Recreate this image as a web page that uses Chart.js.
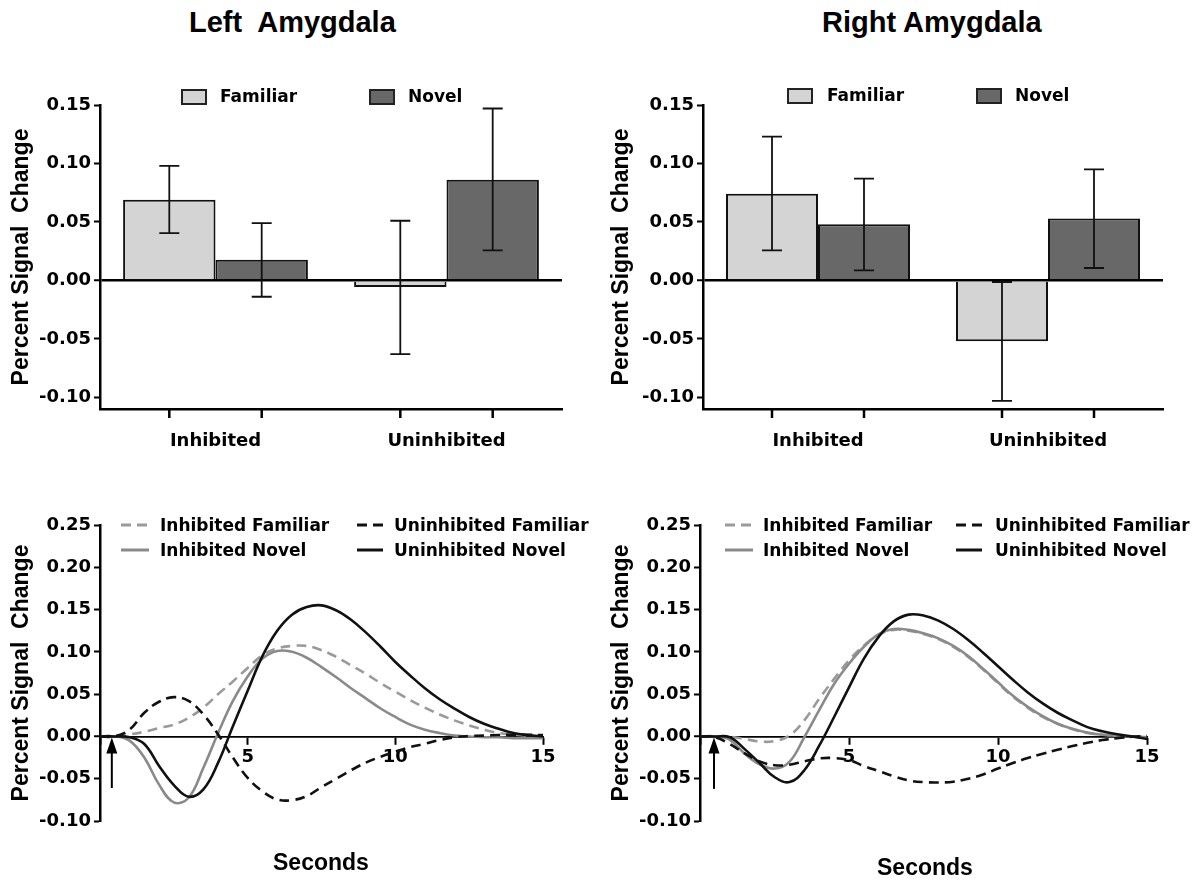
<!DOCTYPE html>
<html lang="en">
<head>
<meta charset="UTF-8">
<title>Left / Right Amygdala</title>
<script src="https://cdn.jsdelivr.net/npm/chart.js@4.4.1"></script>
<style>
  body{margin:0;background:#fff;width:1197px;height:881px;position:relative;overflow:hidden}
  canvas{position:absolute}
  .title{position:absolute;top:6px;font:bold 29px 'Liberation Sans',Arial,sans-serif;color:#000;white-space:pre}
  .lg{position:absolute;font:bold 17px 'DejaVu Sans',sans-serif;color:#000;white-space:nowrap;line-height:20px}
  .box{position:absolute;width:22px;height:12px;border:2px solid #222}
  .xt{position:absolute;font:bold 23px 'Liberation Sans',Arial,sans-serif;color:#000}
  svg{position:absolute}
</style>
</head>
<body>
<div class="title" style="left:189px">Left  Amygdala</div>
<div class="title" style="left:822px">Right Amygdala</div>

<canvas id="barL" width="600" height="410" style="left:0;top:60px"></canvas>
<canvas id="barR" width="597" height="410" style="left:600px;top:60px"></canvas>
<canvas id="lineL" width="600" height="391" style="left:0;top:490px"></canvas>
<canvas id="lineR" width="597" height="391" style="left:600px;top:490px"></canvas>

<!-- bar legends -->
<div class="box" style="left:181px;top:89px;background:#d4d4d4"></div>
<div class="lg" style="left:220px;top:86px">Familiar</div>
<div class="box" style="left:369px;top:89px;background:#686868"></div>
<div class="lg" style="left:408px;top:86px">Novel</div>
<div class="box" style="left:787px;top:88px;background:#d4d4d4"></div>
<div class="lg" style="left:827px;top:85px">Familiar</div>
<div class="box" style="left:976px;top:88px;background:#686868"></div>
<div class="lg" style="left:1015px;top:85px">Novel</div>

<!-- line legends -->
<svg style="left:121px;top:522px" width="28" height="6"><line x1="0" y1="3" x2="28" y2="3" stroke="#9a9a9a" stroke-width="3" stroke-dasharray="10,6"/></svg>
<div class="lg" style="left:160px;top:515px">Inhibited Familiar</div>
<svg style="left:121px;top:547px" width="28" height="6"><line x1="0" y1="3" x2="28" y2="3" stroke="#8a8a8a" stroke-width="3"/></svg>
<div class="lg" style="left:160px;top:540px">Inhibited Novel</div>
<svg style="left:357px;top:522px" width="26" height="6"><line x1="0" y1="3" x2="26" y2="3" stroke="#111" stroke-width="3" stroke-dasharray="10,6"/></svg>
<div class="lg" style="left:394px;top:515px">Uninhibited Familiar</div>
<svg style="left:357px;top:547px" width="26" height="6"><line x1="0" y1="3" x2="26" y2="3" stroke="#111" stroke-width="3"/></svg>
<div class="lg" style="left:394px;top:540px">Uninhibited Novel</div>

<svg style="left:725px;top:522px" width="28" height="6"><line x1="0" y1="3" x2="28" y2="3" stroke="#9a9a9a" stroke-width="3" stroke-dasharray="10,6"/></svg>
<div class="lg" style="left:763px;top:515px">Inhibited Familiar</div>
<svg style="left:725px;top:547px" width="28" height="6"><line x1="0" y1="3" x2="28" y2="3" stroke="#8a8a8a" stroke-width="3"/></svg>
<div class="lg" style="left:763px;top:540px">Inhibited Novel</div>
<svg style="left:956px;top:522px" width="26" height="6"><line x1="0" y1="3" x2="26" y2="3" stroke="#111" stroke-width="3" stroke-dasharray="10,6"/></svg>
<div class="lg" style="left:995px;top:515px">Uninhibited Familiar</div>
<svg style="left:956px;top:547px" width="26" height="6"><line x1="0" y1="3" x2="26" y2="3" stroke="#111" stroke-width="3"/></svg>
<div class="lg" style="left:995px;top:540px">Uninhibited Novel</div>

<div class="xt" style="left:273px;top:849px">Seconds</div>
<div class="xt" style="left:877px;top:854px">Seconds</div>

<script>
// ---- bar data (percent signal change, with error bar ends) ----
const categories = ['Inhibited', 'Uninhibited'];
const barTickVals = [-0.10, -0.05, 0.00, 0.05, 0.10, 0.15];

const leftFam     = [0.069, -0.0057];
const leftFamLow  = [0.0405, -0.063];
const leftFamHigh = [0.098, 0.051];
const leftNov     = [0.0177, 0.086];
const leftNovLow  = [-0.014, 0.0257];
const leftNovHigh = [0.049, 0.147];

const rightFam     = [0.0742, -0.052];
const rightFamLow  = [0.0257, -0.103];
const rightFamHigh = [0.123, -0.0014];
const rightNov     = [0.048, 0.053];
const rightNovLow  = [0.0086, 0.0106];
const rightNovHigh = [0.087, 0.095];

// ---- time courses ----
const seconds = [0,0.5,1,1.5,2,2.5,3,3.5,4,4.5,5,5.5,6,6.5,7,7.5,8,8.5,9,9.5,10,10.5,11,11.5,12,12.5,13,13.5,14,14.5,15];
const lineTickVals = [-0.10, -0.05, 0.00, 0.05, 0.10, 0.15, 0.20, 0.25];
const xTickVals = [0, 5, 10, 15];

const leftInhFam   = [0,0.001,0.0024,0.0055,0.010,0.014,0.022,0.034,0.050,0.065,0.081,0.096,0.104,0.107,0.107,0.102,0.094,0.084,0.074,0.063,0.053,0.043,0.034,0.026,0.019,0.013,0.008,0.004,0.002,0.001,-0.001];
const leftInhNov   = [0,0,-0.005,-0.025,-0.057,-0.078,-0.0725,-0.037,0.004,0.042,0.071,0.092,0.101,0.100,0.093,0.082,0.070,0.057,0.045,0.033,0.023,0.014,0.008,0.004,0.001,0,-0.001,-0.001,-0.002,-0.002,-0.002];
const leftUninhFam = [0,0,0.008,0.028,0.041,0.0465,0.042,0.026,0.0024,-0.025,-0.049,-0.065,-0.0745,-0.0753,-0.0705,-0.060,-0.050,-0.040,-0.031,-0.024,-0.018,-0.0126,-0.0087,-0.0043,-0.001,0.0004,0.001,0.0016,0.002,0.002,0.0016];
const leftUninhNov = [0,0,-0.001,-0.009,-0.035,-0.0575,-0.0713,-0.0626,-0.031,0.012,0.054,0.095,0.125,0.144,0.153,0.155,0.149,0.138,0.123,0.106,0.088,0.072,0.057,0.044,0.033,0.023,0.015,0.009,0.004,0.0015,0];

const rightInhFam   = [0,0,-0.0005,-0.003,-0.006,-0.0055,0.001,0.019,0.0445,0.068,0.090,0.1075,0.1205,0.126,0.125,0.121,0.115,0.106,0.094,0.079,0.063,0.047,0.034,0.023,0.015,0.0085,0.004,0.002,0.0008,0,-0.001];
const rightInhNov   = [0,0,-0.004,-0.0205,-0.033,-0.038,-0.030,-0.001,0.031,0.062,0.086,0.106,0.121,0.127,0.126,0.122,0.116,0.107,0.095,0.080,0.064,0.048,0.035,0.024,0.015,0.009,0.0045,0.002,0.001,0,-0.001];
const rightUninhFam = [0,-0.001,-0.009,-0.020,-0.0295,-0.034,-0.0335,-0.0295,-0.026,-0.0256,-0.028,-0.035,-0.041,-0.047,-0.052,-0.054,-0.0544,-0.0536,-0.050,-0.045,-0.038,-0.0315,-0.0256,-0.0205,-0.0158,-0.0114,-0.0075,-0.0043,-0.002,-0.0004,0.0004];
const rightUninhNov = [0,0,-0.001,-0.015,-0.0315,-0.048,-0.054,-0.040,-0.011,0.023,0.058,0.092,0.118,0.136,0.144,0.143,0.137,0.127,0.114,0.099,0.083,0.067,0.052,0.039,0.028,0.019,0.011,0.006,0.0025,0,-0.003];

// stimulus onset arrow (seconds, base value)
const leftArrow  = {at: 0.4, from: -0.061};
const rightArrow = {at: 0.47, from: -0.062};

// ---- styling ----
const tickFont  = {family: "'DejaVu Sans', sans-serif", size: 18, weight: 'bold'};
const titleFont = {family: "'Liberation Sans', Arial, sans-serif", size: 23, weight: 'bold'};
Chart.defaults.color = '#000';

const errorBars = {
  id: 'errorBars',
  afterDatasetsDraw(chart, args, opts) {
    const ctx = chart.ctx, y = chart.scales.y;
    ctx.save(); ctx.strokeStyle = '#111'; ctx.lineWidth = 1.8;
    chart.data.datasets.forEach((ds, i) => {
      chart.getDatasetMeta(i).data.forEach((bar, j) => {
        const lo = y.getPixelForValue(opts.low[i][j]), hi = y.getPixelForValue(opts.high[i][j]);
        ctx.beginPath();
        ctx.moveTo(bar.x, lo); ctx.lineTo(bar.x, hi);
        ctx.moveTo(bar.x - 10, lo); ctx.lineTo(bar.x + 10, lo);
        ctx.moveTo(bar.x - 10, hi); ctx.lineTo(bar.x + 10, hi);
        ctx.stroke();
      });
    });
    ctx.restore();
  }
};
const barTicks = {
  id: 'barTicks',
  afterDraw(chart) {
    const ctx = chart.ctx, b = chart.chartArea.bottom;
    ctx.save(); ctx.strokeStyle = '#000'; ctx.lineWidth = 2.5;
    chart.data.datasets.forEach((ds, i) => {
      chart.getDatasetMeta(i).data.forEach(bar => {
        ctx.beginPath(); ctx.moveTo(bar.x, b); ctx.lineTo(bar.x, b + 9); ctx.stroke();
      });
    });
    ctx.restore();
  }
};
const onsetArrow = {
  id: 'onsetArrow',
  afterDatasetsDraw(chart, args, opts) {
    if (opts.at == null) return;
    const ctx = chart.ctx, x = chart.scales.x.getPixelForValue(opts.at);
    const tip = chart.scales.y.getPixelForValue(0) + 1, base = chart.scales.y.getPixelForValue(opts.from);
    ctx.save(); ctx.strokeStyle = '#000'; ctx.fillStyle = '#000'; ctx.lineWidth = 2;
    ctx.beginPath(); ctx.moveTo(x, base); ctx.lineTo(x, tip + 12); ctx.stroke();
    ctx.beginPath(); ctx.moveTo(x, tip); ctx.lineTo(x - 5.5, tip + 16); ctx.lineTo(x + 5.5, tip + 16); ctx.closePath(); ctx.fill();
    ctx.restore();
  }
};

function yAxis(min, max, vals, width, onArea) {
  return {
    min: min, max: max,
    afterBuildTicks: s => { s.ticks = vals.map(v => ({value: v})); },
    afterFit: s => { s.width = width; },
    ticks: {font: tickFont, color: '#000', padding: 3, callback: v => v.toFixed(2)},
    grid: {
      drawOnChartArea: onArea,
      color: c => (c.tick && Math.abs(c.tick.value) < 1e-9) ? '#000' : 'rgba(0,0,0,0)',
      lineWidth: c => (c.tick && Math.abs(c.tick.value) < 1e-9) ? 2.5 : 1,
      tickColor: '#000', tickLength: 6, tickWidth: 2
    },
    border: {color: '#000', width: 2.5},
    title: {display: true, text: 'Percent Signal  Change', font: titleFont, color: '#000', padding: {top: 8, bottom: 0}}
  };
}

function barChart(id, fam, nov, low, high, yWidth, padRight) {
  return new Chart(document.getElementById(id), {
    type: 'bar',
    data: {labels: categories, datasets: [
      {label: 'Familiar', data: fam, backgroundColor: '#d4d4d4', borderColor: '#111', borderWidth: 2, categoryPercentage: 0.8, barPercentage: 1},
      {label: 'Novel', data: nov, backgroundColor: '#686868', borderColor: '#111', borderWidth: 2, categoryPercentage: 0.8, barPercentage: 1}
    ]},
    options: {
      responsive: false, animation: false,
      layout: {padding: {top: 45, right: padRight, left: 0, bottom: 0}},
      plugins: {legend: {display: false}, tooltip: {enabled: false}, errorBars: {low: low, high: high}},
      scales: {
        x: {
          grid: {display: true, drawOnChartArea: false, drawTicks: false},
          border: {color: '#000', width: 2.5},
          ticks: {font: tickFont, color: '#000', padding: 22},
          afterFit: s => { s.height = 61; }
        },
        y: yAxis(-0.11, 0.15, barTickVals, yWidth, true)
      }
    },
    plugins: [errorBars, barTicks]
  });
}

function lineChart(id, inhFam, inhNov, uninhFam, uninhNov, arrow, padRight) {
  const ds = (label, data, color, dash) => ({label, data, borderColor: color, borderWidth: 2.6, borderDash: dash,
    pointRadius: 0, fill: false, tension: 0.4});
  return new Chart(document.getElementById(id), {
    type: 'line',
    data: {labels: seconds, datasets: [
      ds('Uninhibited Novel', uninhNov, '#111', []),
      ds('Uninhibited Familiar', uninhFam, '#111', [10, 6]),
      ds('Inhibited Novel', inhNov, '#8a8a8a', []),
      ds('Inhibited Familiar', inhFam, '#9a9a9a', [10, 6])
    ]},
    options: {
      responsive: false, animation: false,
      layout: {padding: {top: 35, right: padRight, left: 0, bottom: 60}},
      plugins: {legend: {display: false}, tooltip: {enabled: false}, onsetArrow: arrow},
      scales: {
        x: {
          type: 'linear', min: 0, max: 15, position: {y: 0},
          afterBuildTicks: s => { s.ticks = xTickVals.map(v => ({value: v})); },
          ticks: {font: tickFont, color: '#000', padding: 3, callback: v => v === 0 ? '' : String(v)},
          grid: {drawOnChartArea: false, color: '#000', tickColor: '#000', tickLength: 7, tickWidth: 2},
          border: {color: '#000', width: 1.8}
        },
        y: yAxis(-0.10, 0.25, lineTickVals, 100, false)
      }
    },
    plugins: [onsetArrow]
  });
}

barChart('barL', leftFam, leftNov, [leftFamLow, leftNovLow], [leftFamHigh, leftNovHigh], 100, 38);
barChart('barR', rightFam, rightNov, [rightFamLow, rightNovLow], [rightFamHigh, rightNovHigh], 103, 34);
lineChart('lineL', leftInhFam, leftInhNov, leftUninhFam, leftUninhNov, leftArrow, 57);
lineChart('lineR', rightInhFam, rightInhNov, rightUninhFam, rightUninhNov, rightArrow, 50);
</script>
</body>
</html>
